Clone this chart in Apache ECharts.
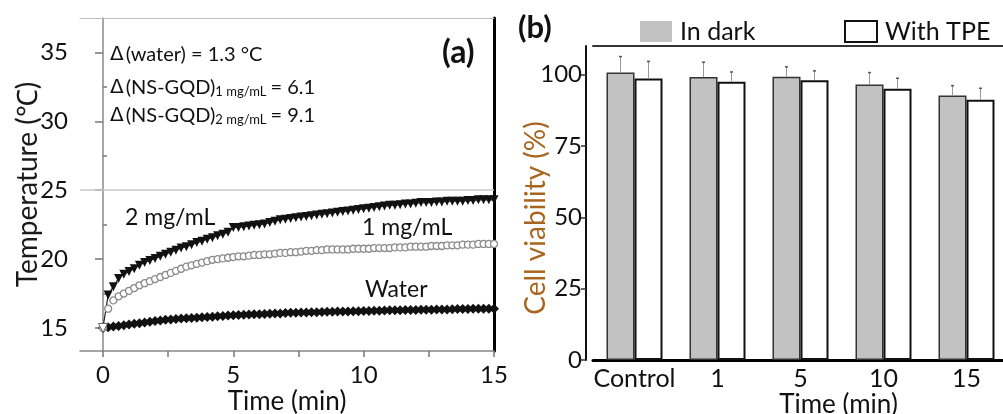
<!DOCTYPE html>
<html><head><meta charset="utf-8">
<script src="https://cdn.jsdelivr.net/npm/echarts@6/dist/echarts.min.js"></script>
<style>html,body{margin:0;padding:0;background:#fff}#c{width:1003px;height:414px}</style>
</head><body><div id="c"></div>
<script>
// ---- Panel (a): temperature vs time ----
const timeMin = [0,0.2,0.4,0.6,0.8,1.0,1.2,1.4,1.6,1.8,2.0,2.2,2.4,2.6,2.8,3.0,3.2,3.4,3.6,3.8,4.0,4.2,4.4,4.6,4.8,5.0,5.2,5.4,5.6,5.8,6.0,6.2,6.4,6.6,6.8,7.0,7.2,7.4,7.6,7.8,8.0,8.2,8.4,8.6,8.8,9.0,9.2,9.4,9.6,9.8,10.0,10.2,10.4,10.6,10.8,11.0,11.2,11.4,11.6,11.8,12.0,12.2,12.4,12.6,12.8,13.0,13.2,13.4,13.6,13.8,14.0,14.2,14.4,14.6,14.8,15.0];
const temp2mg = [15.0,17.4,18.0,18.6,18.9,19.1,19.3,19.55,19.75,19.9,20.05,20.2,20.35,20.5,20.65,20.8,20.9,21.05,21.2,21.3,21.45,21.55,21.7,21.8,21.95,22.3,22.3,22.35,22.4,22.45,22.5,22.55,22.65,22.75,22.85,22.9,22.95,23.0,23.05,23.1,23.15,23.2,23.25,23.3,23.35,23.4,23.45,23.5,23.55,23.6,23.65,23.7,23.75,23.8,23.85,23.9,23.9,23.95,24.0,24.0,24.05,24.1,24.1,24.1,24.15,24.15,24.2,24.2,24.2,24.2,24.25,24.25,24.3,24.3,24.3,24.3];
const temp1mg = [15.0,16.4,17.0,17.3,17.5,17.7,17.9,18.1,18.25,18.4,18.55,18.7,18.85,19.0,19.15,19.3,19.45,19.55,19.65,19.75,19.85,19.95,20.0,20.05,20.1,20.15,20.2,20.2,20.25,20.3,20.3,20.35,20.35,20.4,20.45,20.45,20.5,20.5,20.55,20.6,20.6,20.65,20.65,20.7,20.7,20.7,20.7,20.7,20.75,20.75,20.75,20.75,20.8,20.8,20.8,20.8,20.85,20.85,20.85,20.9,20.9,20.9,20.9,20.95,20.95,20.95,21.0,21.0,21.0,21.05,21.05,21.05,21.1,21.1,21.1,21.1];
const tempWater = [15.0,15.05,15.1,15.15,15.2,15.25,15.3,15.35,15.4,15.45,15.5,15.55,15.6,15.62,15.65,15.68,15.7,15.73,15.75,15.78,15.8,15.82,15.85,15.87,15.9,15.92,15.94,15.96,15.98,16.0,16.0,16.02,16.04,16.05,16.06,16.08,16.1,16.1,16.12,16.13,16.14,16.15,16.16,16.17,16.18,16.19,16.2,16.2,16.21,16.22,16.23,16.24,16.25,16.26,16.27,16.28,16.28,16.29,16.3,16.3,16.31,16.32,16.32,16.33,16.34,16.35,16.35,16.36,16.37,16.38,16.38,16.39,16.4,16.4,16.4,16.4];
const tempTickLabels = [15, 20, 25, 30, 35];
const tempMinorTicks = [17.5, 22.5, 27.5, 32.5];
const timeTickLabels = [0, 5, 10, 15];
const timeTicks = [0, 2.5, 5, 7.5, 10, 12.5, 15];

// ---- Panel (b): cell viability ----
const barCategories = ['Control', '1', '5', '10', '15'];
const viabilityDark = [100.7, 99.1, 99.2, 96.5, 92.7];
const viabilityTPE = [98.6, 97.5, 98.0, 95.0, 91.2];
const errDark = [5.6, 5.2, 3.5, 4.2, 3.4];
const errTPE = [6.0, 3.4, 3.3, 3.7, 4.0];
const viabilityTicks = [0, 25, 50, 75, 100];

const FONT = 'Lato';
const zip = (xs, ys) => xs.map((x, i) => [x, ys[i]]);

const chart = echarts.init(document.getElementById('c'), null, {renderer: 'canvas'});

function errItem(offset) {
  return function (params, api) {
    const c = api.value(0), v = api.value(1), e = api.value(2);
    const p0 = api.coord([c, v]);
    const p1 = api.coord([c, v + e]);
    const x = p0[0] + offset;
    return {type: 'group', children: [
      {type: 'line', shape: {x1: x, y1: p0[1], x2: x, y2: p1[1]}, style: {stroke: '#999', lineWidth: 1}},
      {type: 'line', shape: {x1: x - 1.5, y1: p1[1], x2: x + 1.5, y2: p1[1]}, style: {stroke: '#555', lineWidth: 1.5}}
    ]};
  };
}

const data2 = zip(timeMin, temp2mg).map((d, i) => i === 0 ? {value: d, itemStyle: {color: '#fff', borderColor: '#666', borderWidth: 1}} : d);

const deltaRich = {
  d: {fontSize: 20, fontFamily: 'DejaVu Sans', fill: '#111', padding: [0, 2, 0, 0]},
  t: {fontSize: 20, fontFamily: FONT, fill: '#111'},
  s: {fontSize: 13, fontFamily: FONT, fill: '#111', verticalAlign: 'bottom', padding: [6, 4, 0, 0]}
};

chart.setOption({
  animation: false,
  textStyle: {fontFamily: FONT},
  grid: [
    {left: 80, top: 18, width: 414, height: 333, outerBoundsMode: 'none', containLabel: false},
    {left: 593, top: 46, width: 415, height: 314, outerBoundsMode: 'none', containLabel: false}
  ],
  xAxis: [
    {gridIndex: 0, type: 'value', min: -0.88, max: 15,
     axisLine: {lineStyle: {color: '#888', width: 1.5}},
     axisTick: {show: true, length: 6, customValues: timeTicks, lineStyle: {color: '#777', width: 1.5}},
     axisLabel: {customValues: timeTickLabels, fontSize: 24, color: '#111', margin: 12, fontFamily: FONT},
     splitLine: {show: false},
     name: 'Time (min)', nameLocation: 'middle', nameGap: 38, nameMoveOverlap: false,
     nameTextStyle: {fontSize: 26, color: '#111', fontFamily: FONT}},
    {gridIndex: 0, type: 'value', position: 'top', min: -0.88, max: 15,
     axisLine: {show: true, lineStyle: {color: '#bbb', width: 1}},
     axisTick: {show: false}, axisLabel: {show: false}, splitLine: {show: false}},
    {gridIndex: 1, type: 'category', data: barCategories,
     axisLine: {lineStyle: {color: '#000', width: 3}},
     axisTick: {show: false},
     axisLabel: {interval: 0, fontSize: 25, color: '#111', margin: 6, fontFamily: FONT},
     name: 'Time (min)', nameLocation: 'middle', nameGap: 32, nameMoveOverlap: false,
     nameTextStyle: {fontSize: 26, color: '#111', fontFamily: FONT, padding: [0, 0, 0, 76]}},
    {gridIndex: 1, type: 'category', data: barCategories, position: 'top',
     axisLine: {show: true, lineStyle: {color: '#333', width: 2}},
     axisTick: {show: false}, axisLabel: {show: false}}
  ],
  yAxis: [
    {gridIndex: 0, type: 'value', min: 13.33, max: 37.5,
     axisLine: {show: true, lineStyle: {color: '#888', width: 1.5}},
     axisTick: {show: true, length: 8, customValues: tempTickLabels, lineStyle: {color: '#777', width: 1.5}},
     axisLabel: {customValues: tempTickLabels, fontSize: 24, color: '#111', margin: 12, fontFamily: FONT},
     splitLine: {show: false},
     name: 'Temperature (\u2103)', nameLocation: 'middle', nameGap: 38, nameMoveOverlap: false,
     nameTextStyle: {fontSize: 28, color: '#1a1a1a', fontFamily: FONT}},
    {gridIndex: 0, type: 'value', min: 13.33, max: 37.5,
     axisLine: {show: false},
     axisTick: {show: true, length: 4, customValues: tempMinorTicks, lineStyle: {color: '#777', width: 1.5}},
     axisLabel: {show: false}, splitLine: {show: false}},
    {gridIndex: 0, type: 'value', position: 'right', min: 13.33, max: 37.5,
     axisLine: {show: true, lineStyle: {color: '#000', width: 3}},
     axisTick: {show: false}, axisLabel: {show: false}, splitLine: {show: false}},
    {gridIndex: 1, type: 'value', min: 0, max: 110, offset: 7,
     axisLine: {show: true, lineStyle: {color: '#111', width: 2}},
     axisTick: {show: true, length: 5, customValues: viabilityTicks, lineStyle: {color: '#333', width: 1.5}},
     axisLabel: {customValues: viabilityTicks, fontSize: 24, color: '#111', margin: 4, fontFamily: FONT},
     splitLine: {show: false},
     name: 'Cell viability (%)', nameLocation: 'middle', nameGap: 36, nameMoveOverlap: false,
     nameTextStyle: {fontSize: 28, color: '#a8651f', fontFamily: FONT, padding: [0, 30, 0, 0]}}
  ],
  legend: [
    {data: [{name: 'In dark', itemStyle: {borderWidth: 0}}], icon: 'rect', left: 635, top: 14, itemWidth: 32, itemHeight: 21,
     textStyle: {fontSize: 25, color: '#111', fontFamily: FONT, padding: [0, 0, 0, 3]}, selectedMode: false},
    {data: ['With TPE'], icon: 'rect', left: 839, top: 14, itemWidth: 32, itemHeight: 21,
     textStyle: {fontSize: 25, color: '#111', fontFamily: FONT, padding: [0, 0, 0, 3]}, selectedMode: false}
  ],
  series: [
    {name: 'Water', type: 'line', xAxisIndex: 0, yAxisIndex: 0, data: zip(timeMin, tempWater),
     symbol: 'diamond', symbolSize: 10, showAllSymbol: true, itemStyle: {color: '#111'}, lineStyle: {color: '#111', width: 2},
     markLine: {silent: true, symbol: 'none', label: {show: false},
       lineStyle: {color: '#c8c8c8', width: 1.5, type: 'solid'}, data: [{yAxis: 25}]}},
    {name: '1 mg/mL', type: 'line', xAxisIndex: 0, yAxisIndex: 0, data: zip(timeMin, temp1mg),
     symbol: 'circle', symbolSize: 7, showAllSymbol: true, itemStyle: {color: '#fff', borderColor: '#8a8a8a', borderWidth: 1.3},
     lineStyle: {opacity: 0}},
    {name: '2 mg/mL', type: 'line', xAxisIndex: 0, yAxisIndex: 0, data: data2,
     symbol: 'triangle', symbolRotate: 180, symbolSize: 9, showAllSymbol: true, itemStyle: {color: '#111'},
     lineStyle: {color: '#222', width: 1.2}},
    {name: 'In dark', type: 'bar', xAxisIndex: 2, yAxisIndex: 3, data: viabilityDark,
     barWidth: 28, barGap: '0%', itemStyle: {color: '#c2c2c2', borderColor: '#333', borderWidth: 1.5}},
    {name: 'With TPE', type: 'bar', xAxisIndex: 2, yAxisIndex: 3, data: viabilityTPE,
     barWidth: 28, barGap: '0%', itemStyle: {color: '#fff', borderColor: '#111', borderWidth: 2}},
    {name: 'errDark', type: 'custom', xAxisIndex: 2, yAxisIndex: 3, renderItem: errItem(-14),
     data: viabilityDark.map((v, i) => [i, v, errDark[i]]), z: 5},
    {name: 'errTPE', type: 'custom', xAxisIndex: 2, yAxisIndex: 3, renderItem: errItem(14),
     data: viabilityTPE.map((v, i) => [i, v, errTPE[i]]), z: 5}
  ],
  graphic: [
    {type: 'text', x: 442, y: 37, style: {text: '(a)', font: 'bold 32px ' + FONT, fill: '#111'}},
    {type: 'text', x: 518, y: 12, style: {text: '(b)', font: 'bold 31px ' + FONT, fill: '#111'}},
    {type: 'text', x: 110, y: 45, style: {text: '{d|\u0394}{t|(water) = 1.3 \u00b0C}', rich: deltaRich}},
    {type: 'text', x: 110, y: 78, style: {text: '{d|\u0394}{t|(NS-GQD)}{s|1 mg/mL}{t|= 6.1}', rich: deltaRich}},
    {type: 'text', x: 110, y: 106, style: {text: '{d|\u0394}{t|(NS-GQD)}{s|2 mg/mL}{t|= 9.1}', rich: deltaRich}},
    {type: 'text', x: 125, y: 206, style: {text: '2 mg/mL', font: '23px ' + FONT, fill: '#111'}},
    {type: 'text', x: 362, y: 216, style: {text: '1 mg/mL', font: '23px ' + FONT, fill: '#111'}},
    {type: 'text', x: 365, y: 278, style: {text: 'Water', font: '23px ' + FONT, fill: '#111'}}
  ]
});
</script></body></html>
